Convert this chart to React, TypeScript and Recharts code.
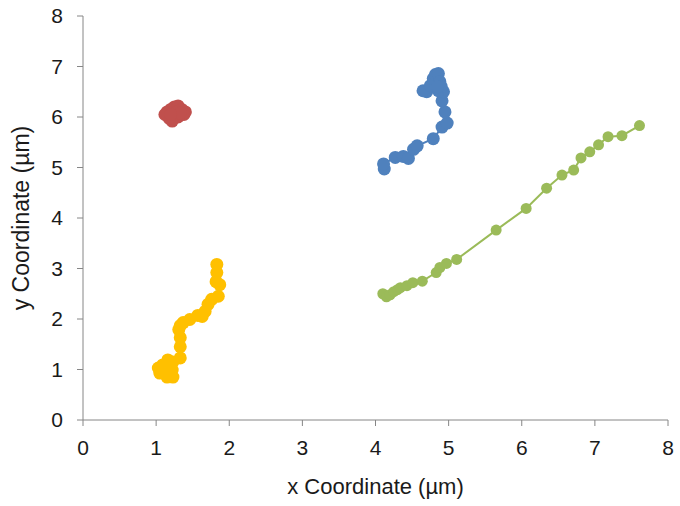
import { ScatterChart, Scatter, XAxis, YAxis } from "recharts";

// trajectories (x, y in µm), in track order
const blueTrack = [
  { x: 4.12, y: 4.97 }, { x: 4.11, y: 5.07 }, { x: 4.27, y: 5.2 }, { x: 4.38, y: 5.22 },
  { x: 4.45, y: 5.18 }, { x: 4.52, y: 5.36 }, { x: 4.57, y: 5.43 }, { x: 4.79, y: 5.57 },
  { x: 4.91, y: 5.8 }, { x: 4.98, y: 5.88 }, { x: 4.95, y: 6.1 }, { x: 4.91, y: 6.32 },
  { x: 4.93, y: 6.5 }, { x: 4.86, y: 6.52 }, { x: 4.7, y: 6.5 }, { x: 4.65, y: 6.52 },
  { x: 4.75, y: 6.62 }, { x: 4.79, y: 6.76 }, { x: 4.82, y: 6.84 }, { x: 4.86, y: 6.86 },
  { x: 4.88, y: 6.7 }, { x: 4.9, y: 6.6 }, { x: 4.85, y: 6.6 },
];

const redTrack = [
  { x: 1.15, y: 6.1 }, { x: 1.2, y: 6.15 }, { x: 1.25, y: 6.2 }, { x: 1.3, y: 6.22 },
  { x: 1.35, y: 6.15 }, { x: 1.4, y: 6.1 }, { x: 1.38, y: 6.05 }, { x: 1.3, y: 6.0 },
  { x: 1.22, y: 5.92 }, { x: 1.18, y: 5.97 }, { x: 1.12, y: 6.05 }, { x: 1.28, y: 6.1 },
  { x: 1.33, y: 6.08 }, { x: 1.2, y: 6.05 },
];

const yellowTrack = [
  { x: 1.15, y: 0.85 }, { x: 1.23, y: 0.85 }, { x: 1.05, y: 0.93 }, { x: 1.03, y: 1.03 },
  { x: 1.12, y: 1.03 }, { x: 1.22, y: 0.99 }, { x: 1.09, y: 1.09 }, { x: 1.16, y: 1.19 },
  { x: 1.23, y: 1.15 }, { x: 1.33, y: 1.23 }, { x: 1.33, y: 1.45 }, { x: 1.33, y: 1.63 },
  { x: 1.31, y: 1.79 }, { x: 1.33, y: 1.87 }, { x: 1.37, y: 1.93 }, { x: 1.46, y: 1.99 },
  { x: 1.57, y: 2.07 }, { x: 1.63, y: 2.05 }, { x: 1.67, y: 2.15 }, { x: 1.71, y: 2.29 },
  { x: 1.76, y: 2.39 }, { x: 1.85, y: 2.45 }, { x: 1.87, y: 2.68 }, { x: 1.82, y: 2.74 },
  { x: 1.83, y: 2.92 }, { x: 1.83, y: 3.08 },
];

const greenTrack = [
  { x: 4.1, y: 2.5 }, { x: 4.15, y: 2.44 }, { x: 4.2, y: 2.48 }, { x: 4.25, y: 2.54 },
  { x: 4.3, y: 2.58 }, { x: 4.34, y: 2.62 }, { x: 4.43, y: 2.66 }, { x: 4.51, y: 2.72 },
  { x: 4.64, y: 2.75 }, { x: 4.83, y: 2.92 }, { x: 4.88, y: 3.02 }, { x: 4.97, y: 3.1 },
  { x: 5.11, y: 3.18 }, { x: 5.65, y: 3.76 }, { x: 6.06, y: 4.19 }, { x: 6.34, y: 4.59 },
  { x: 6.55, y: 4.85 }, { x: 6.71, y: 4.95 }, { x: 6.81, y: 5.19 }, { x: 6.93, y: 5.31 },
  { x: 7.05, y: 5.45 }, { x: 7.18, y: 5.61 }, { x: 7.37, y: 5.63 }, { x: 7.61, y: 5.83 },
];

const axisTicks = [0, 1, 2, 3, 4, 5, 6, 7, 8];

const FONT = "'Liberation Sans', Arial, sans-serif";
const AXIS_GRAY = "#868686";
const TEXT = "#1a1a1a";

function dot(color: string, r: number) {
  return (props: any) => (
    <circle cx={props.cx} cy={props.cy} r={r} fill={color} stroke="none" />
  );
}

function YTitle(props: any) {
  const { viewBox } = props;
  const cx = 21;
  const cy = viewBox.y + viewBox.height / 2;
  return (
    <text
      x={cx}
      y={cy}
      transform={`rotate(-90, ${cx}, ${cy})`}
      textAnchor="middle"
      dominantBaseline="central"
      fontSize={23}
      fontFamily={FONT}
      fill={TEXT}
    >
      y Coordinate (µm)
    </text>
  );
}

function XTitle(props: any) {
  const { viewBox } = props;
  const cx = viewBox.x + viewBox.width / 2;
  return (
    <text
      x={cx}
      y={486}
      textAnchor="middle"
      dominantBaseline="central"
      fontSize={22}
      fontFamily={FONT}
      fill={TEXT}
    >
      x Coordinate (µm)
    </text>
  );
}

export default function App() {
  const tickStyle = { fontSize: 21, fontFamily: FONT, fill: TEXT };
  return (
    <div style={{ position: "absolute", left: 0, top: 0, background: "#fff" }}>
      <ScatterChart
        width={680}
        height={506}
        margin={{ top: 16, right: 12, bottom: 6, left: 0 }}
      >
        <XAxis
          type="number"
          dataKey="x"
          domain={[0, 8]}
          ticks={axisTicks}
          interval={0}
          height={80}
          stroke={AXIS_GRAY}
          tickSize={6}
          tickMargin={14}
          tick={tickStyle}
          tickLine={{ stroke: AXIS_GRAY }}
          label={<XTitle />}
        />
        <YAxis
          type="number"
          dataKey="y"
          domain={[0, 8]}
          ticks={axisTicks}
          interval={0}
          width={83}
          stroke={AXIS_GRAY}
          tickSize={6}
          tickMargin={14}
          tick={tickStyle}
          tickLine={{ stroke: AXIS_GRAY }}
          label={<YTitle />}
        />
        <Scatter
          data={greenTrack}
          fill="#9BBB59"
          line={{ stroke: "#9BBB59", strokeWidth: 2 }}
          shape={dot("#9BBB59", 5.5)}
          isAnimationActive={false}
        />
        <Scatter
          data={yellowTrack}
          fill="#FFC000"
          line={{ stroke: "#FFC000", strokeWidth: 2 }}
          shape={dot("#FFC000", 6.5)}
          isAnimationActive={false}
        />
        <Scatter
          data={redTrack}
          fill="#C0504D"
          line={{ stroke: "#C0504D", strokeWidth: 2 }}
          shape={dot("#C0504D", 6.5)}
          isAnimationActive={false}
        />
        <Scatter
          data={blueTrack}
          fill="#4F81BD"
          line={{ stroke: "#4F81BD", strokeWidth: 2 }}
          shape={dot("#4F81BD", 6.5)}
          isAnimationActive={false}
        />
      </ScatterChart>
    </div>
  );
}
